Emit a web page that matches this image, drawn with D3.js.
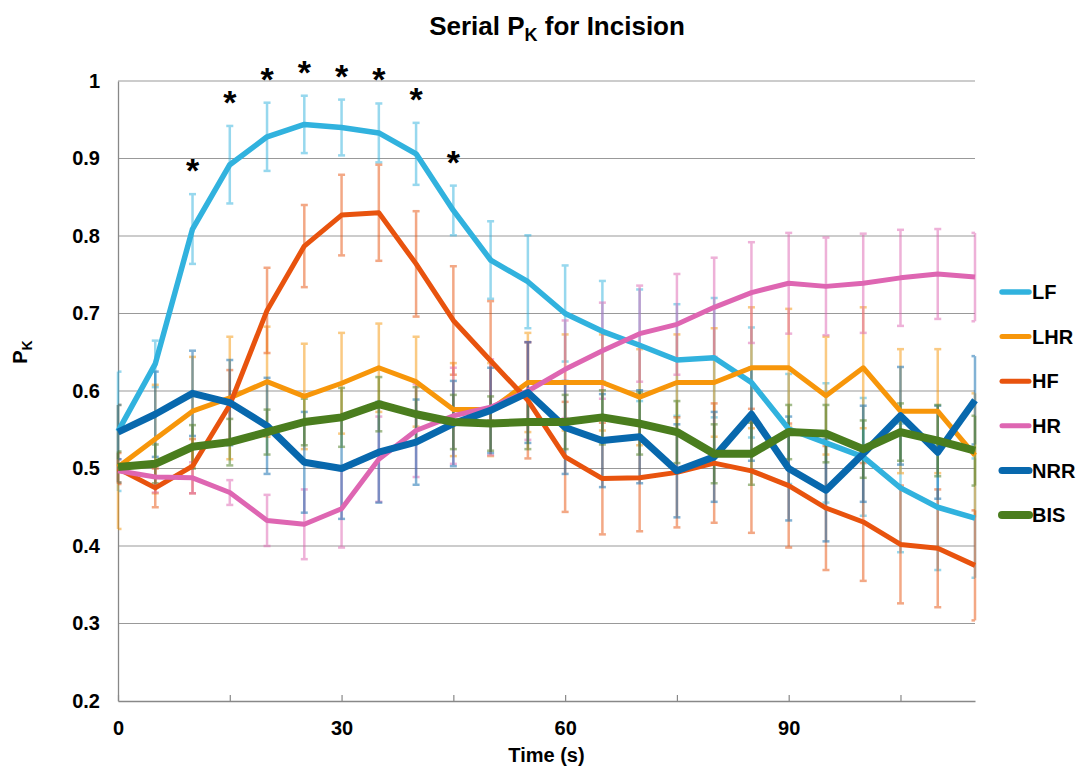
<!DOCTYPE html>
<html>
<head>
<meta charset="utf-8">
<script src="https://cdn.jsdelivr.net/npm/d3@7"></script>
<style>
  body { margin: 0; background: #fff; }
  text { font-family: "Liberation Sans", Arial, sans-serif; font-weight: bold; fill: #000; }
</style>
</head>
<body>
<div id="chart"></div>
<script>
// time points (s)
var times = [0, 5, 10, 15, 20, 25, 30, 35, 40, 45, 50, 55, 60, 65, 70, 75, 80, 85, 90, 95, 100, 105, 110, 115];

// series means
var LF  = [0.548, 0.635, 0.809, 0.892, 0.928, 0.944, 0.940, 0.933, 0.906, 0.833, 0.769, 0.741, 0.700, 0.677, 0.659, 0.640, 0.643, 0.611, 0.551, 0.533, 0.515, 0.475, 0.450, 0.436];
var LHR = [0.502, 0.538, 0.574, 0.591, 0.612, 0.593, 0.610, 0.630, 0.612, 0.576, 0.576, 0.611, 0.611, 0.611, 0.592, 0.611, 0.611, 0.630, 0.630, 0.594, 0.630, 0.574, 0.574, 0.517];
var HF  = [0.500, 0.475, 0.503, 0.582, 0.704, 0.787, 0.827, 0.830, 0.764, 0.691, 0.639, 0.588, 0.515, 0.487, 0.488, 0.495, 0.507, 0.497, 0.478, 0.449, 0.431, 0.402, 0.397, 0.375];
var HR  = [0.497, 0.489, 0.488, 0.469, 0.433, 0.428, 0.448, 0.512, 0.549, 0.568, 0.579, 0.600, 0.628, 0.652, 0.674, 0.686, 0.708, 0.727, 0.739, 0.735, 0.739, 0.746, 0.751, 0.747];
var NRR = [0.547, 0.570, 0.597, 0.585, 0.555, 0.508, 0.500, 0.521, 0.534, 0.558, 0.575, 0.598, 0.553, 0.536, 0.541, 0.497, 0.515, 0.570, 0.500, 0.472, 0.519, 0.568, 0.521, 0.588];
var BIS = [0.502, 0.506, 0.528, 0.534, 0.547, 0.560, 0.566, 0.583, 0.570, 0.560, 0.558, 0.560, 0.560, 0.566, 0.558, 0.547, 0.519, 0.519, 0.547, 0.545, 0.525, 0.547, 0.536, 0.523];

// error bar half-widths
var LFerr  = [0.077, 0.030, 0.045, 0.050, 0.044, 0.037, 0.036, 0.038, 0.040, 0.032, 0.050, 0.060, 0.062, 0.065, 0.072, 0.072, 0.077, 0.071, 0.071, 0.077, 0.076, 0.083, 0.081, 0.077];
var LHRerr = [0.080, 0.070, 0.070, 0.079, 0.071, 0.068, 0.065, 0.057, 0.058, 0.060, 0.060, 0.064, 0.062, 0.062, 0.062, 0.062, 0.070, 0.078, 0.076, 0.076, 0.078, 0.080, 0.080, 0.080];
var HFerr  = [0.020, 0.025, 0.035, 0.045, 0.055, 0.053, 0.052, 0.062, 0.068, 0.070, 0.077, 0.075, 0.071, 0.072, 0.069, 0.071, 0.077, 0.080, 0.080, 0.080, 0.076, 0.076, 0.076, 0.071];
var HRerr  = [0.015, 0.020, 0.020, 0.016, 0.033, 0.045, 0.050, 0.055, 0.060, 0.062, 0.062, 0.063, 0.063, 0.062, 0.062, 0.065, 0.064, 0.065, 0.065, 0.063, 0.064, 0.062, 0.058, 0.057];
var NRRerr = [0.035, 0.055, 0.055, 0.055, 0.062, 0.065, 0.065, 0.065, 0.055, 0.055, 0.055, 0.065, 0.060, 0.060, 0.060, 0.060, 0.058, 0.060, 0.067, 0.066, 0.062, 0.063, 0.060, 0.057];
var BISerr = [0.020, 0.025, 0.028, 0.030, 0.029, 0.030, 0.038, 0.035, 0.035, 0.035, 0.035, 0.035, 0.035, 0.035, 0.040, 0.040, 0.038, 0.040, 0.035, 0.037, 0.037, 0.037, 0.046, 0.045];

// times flagged with * above LF
var sigTimes = [10, 15, 20, 25, 30, 35, 40, 45];

var yTicks = [0.2, 0.3, 0.4, 0.5, 0.6, 0.7, 0.8, 0.9, 1];
var xTicks = [0, 15, 30, 45, 60, 75, 90, 105];
var xLabels = [0, 30, 60, 90];

var series = [
  {name: "LF",  vals: LF,  err: LFerr,  color: "#31b2de", w: 5.5},
  {name: "LHR", vals: LHR, err: LHRerr, color: "#f7960a", w: 5},
  {name: "HF",  vals: HF,  err: HFerr,  color: "#e8530e", w: 5},
  {name: "HR",  vals: HR,  err: HRerr,  color: "#de66b2", w: 5},
  {name: "NRR", vals: NRR, err: NRRerr, color: "#0868ad", w: 7},
  {name: "BIS", vals: BIS, err: BISerr, color: "#4a7d1e", w: 8}
];

var width = 1079, height = 766;
var margin = {top: 81, right: 104, bottom: 65, left: 118};

var svg = d3.select("#chart").append("svg")
    .attr("width", width)
    .attr("height", height);

var x = d3.scaleLinear().domain([0, 115]).range([margin.left, width - margin.right]);
var y = d3.scaleLinear().domain([0.2, 1]).range([height - margin.bottom, margin.top]);

// gridlines
svg.append("g").selectAll("line")
    .data(yTicks.slice(1))
  .enter().append("line")
    .attr("x1", x(0)).attr("x2", x(115))
    .attr("y1", function(d) { return y(d); })
    .attr("y2", function(d) { return y(d); })
    .style("stroke", "#999")
    .style("stroke-width", 1.2);

// y axis
var yAxis = svg.append("g")
    .attr("transform", "translate(" + x(0) + ",0)")
    .call(d3.axisLeft(y).tickValues(yTicks).tickSize(0).tickPadding(18)
      .tickFormat(function(d) { return d === 1 ? "1" : d3.format(".1f")(d); }));
yAxis.select(".domain").style("stroke", "#888").style("stroke-width", 1.3);
yAxis.selectAll("text")
    .style("font-size", "20px")
    .style("font-family", "'Liberation Sans', Arial, sans-serif")
    .style("font-weight", "bold");

// x axis
var xAxis = svg.append("g")
    .attr("transform", "translate(0," + y(0.2) + ")")
    .call(d3.axisBottom(x).tickValues(xTicks).tickSizeInner(-6).tickSizeOuter(0).tickPadding(20)
      .tickFormat(function(d) { return xLabels.indexOf(d) >= 0 ? d : ""; }));
xAxis.select(".domain").style("stroke", "#888").style("stroke-width", 1.3);
xAxis.selectAll(".tick line").style("stroke", "#888").style("stroke-width", 1.2);
xAxis.selectAll("text")
    .style("font-size", "20px")
    .style("font-family", "'Liberation Sans', Arial, sans-serif")
    .style("font-weight", "bold");

// error bars
series.forEach(function(s) {
  var g = svg.append("g").style("opacity", 0.5);
  var pts = times.map(function(t, i) { return {t: t, v: s.vals[i], e: s.err[i]}; });
  g.selectAll("line.bar").data(pts).enter().append("line")
      .attr("x1", function(d) { return x(d.t); })
      .attr("x2", function(d) { return x(d.t); })
      .attr("y1", function(d) { return y(d.v - d.e); })
      .attr("y2", function(d) { return y(d.v + d.e); })
      .style("stroke", s.color).style("stroke-width", 2.5);
  [-1, 1].forEach(function(sign) {
    g.selectAll("line.cap" + sign).data(pts).enter().append("line")
        .attr("x1", function(d) { return Math.max(x(d.t) - 3.5, x(0)); })
        .attr("x2", function(d) { return Math.min(x(d.t) + 3.5, x(115)); })
        .attr("y1", function(d) { return y(d.v + sign * d.e); })
        .attr("y2", function(d) { return y(d.v + sign * d.e); })
        .style("stroke", s.color).style("stroke-width", 2.5);
  });
});

// lines
var line = d3.line()
    .x(function(d, i) { return x(times[i]); })
    .y(function(d) { return y(d); });

series.forEach(function(s) {
  svg.append("path")
      .datum(s.vals)
      .attr("d", line)
      .style("fill", "none")
      .style("stroke", s.color)
      .style("stroke-width", s.w)
      .style("stroke-linejoin", "round");
});

// significance markers
svg.append("g").selectAll("text")
    .data(sigTimes)
  .enter().append("text")
    .attr("x", function(d) { return x(d); })
    .attr("y", function(d) { var i = times.indexOf(d); return y(LF[i] + LFerr[i]) - 12; })
    .attr("text-anchor", "middle")
    .style("font-size", "34px")
    .text("*");

// title
var title = svg.append("text")
    .attr("x", 557).attr("y", 35)
    .attr("text-anchor", "middle")
    .style("font-size", "26px");
title.append("tspan").text("Serial P");
title.append("tspan").attr("dy", 6).style("font-size", "18px").text("K");
title.append("tspan").attr("dy", -6).text(" for Incision");

// axis titles
svg.append("text")
    .attr("x", (x(0) + x(115)) / 2).attr("y", 762)
    .attr("text-anchor", "middle")
    .style("font-size", "20px")
    .text("Time (s)");

var ylab = svg.append("text")
    .attr("transform", "translate(27,352) rotate(-90)")
    .attr("text-anchor", "middle")
    .style("font-size", "20px");
ylab.append("tspan").text("P");
ylab.append("tspan").attr("dy", 5).style("font-size", "14px").text("K");

// legend
var legend = svg.append("g").selectAll("g")
    .data(series)
  .enter().append("g")
    .attr("transform", function(d, i) { return "translate(1002," + (292 + i * 44.6) + ")"; });
legend.append("line")
    .attr("x1", 0).attr("x2", 27)
    .style("stroke", function(d) { return d.color; })
    .style("stroke-width", function(d) { return d.w; })
    .style("stroke-linecap", "round");
legend.append("text")
    .attr("x", 30).attr("dy", "0.36em")
    .style("font-size", "20px")
    .text(function(d) { return d.name; });
</script>
</body>
</html>
